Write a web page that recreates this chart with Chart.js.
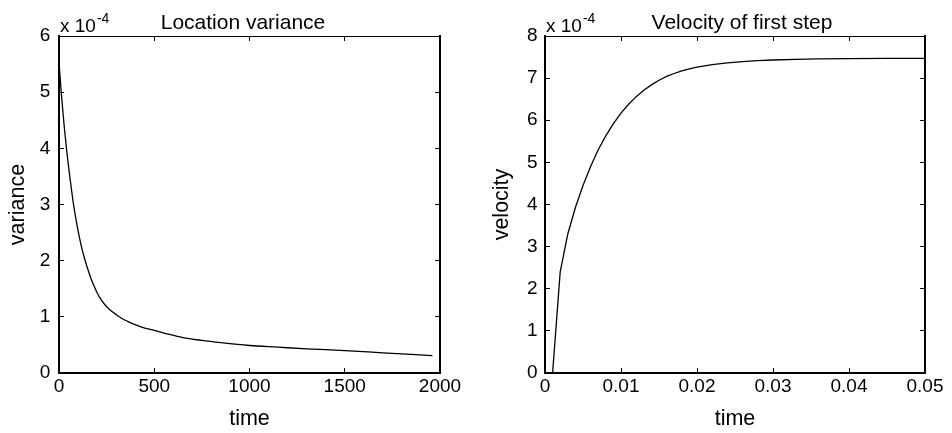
<!DOCTYPE html>
<html>
<head>
<meta charset="utf-8">
<script src="https://cdn.jsdelivr.net/npm/chart.js@4.4.1/dist/chart.umd.min.js"></script>
<style>
    html, body { margin: 0; padding: 0; background: #fff; overflow: hidden; }
    body { width: 952px; height: 433px; position: relative; }
    canvas { position: absolute; top: 0; }
    #leftChart { left: 0; }
    #rightChart { left: 481px; }
</style>
</head>
<body>
<canvas id="leftChart" width="481" height="433"></canvas>
<canvas id="rightChart" width="514" height="433"></canvas>
<script>
// --- Data (y in units of 1e-4) ---
const timeLeft = [0, 5, 10, 15, 20, 25, 30, 40, 50, 60, 75, 90, 105, 120, 135, 150, 165, 180, 200, 220,
    240, 260, 280, 300, 330, 360, 400, 450, 500, 575, 650, 750, 850, 1000, 1150, 1300, 1500, 1700, 1960];
const varianceLeft = [5.55, 5.3, 5.08, 4.87, 4.67, 4.48, 4.3, 3.97, 3.68, 3.41, 3.03, 2.72, 2.45, 2.22, 2.03, 1.86, 1.71, 1.58, 1.43, 1.31,
    1.22, 1.15, 1.09, 1.04, 0.97, 0.92, 0.86, 0.8, 0.76, 0.69, 0.63, 0.58, 0.54, 0.49, 0.46, 0.43, 0.4, 0.36, 0.31];

const timeRight = [0.001, 0.002, 0.003, 0.004, 0.005, 0.006, 0.007, 0.008, 0.009, 0.010,
    0.011, 0.012, 0.013, 0.014, 0.015, 0.016, 0.017, 0.018, 0.019, 0.020,
    0.022, 0.024, 0.026, 0.028, 0.030, 0.033, 0.036, 0.040, 0.045, 0.050];
const velocityRight = [0, 2.4, 3.3, 3.93, 4.45, 4.9, 5.3, 5.63, 5.92, 6.17,
    6.38, 6.56, 6.71, 6.84, 6.95, 7.04, 7.11, 7.17, 7.22, 7.26,
    7.32, 7.36, 7.39, 7.415, 7.43, 7.445, 7.455, 7.462, 7.467, 7.47];

// tick values and labels
const xTicksLeft = [0, 500, 1000, 1500, 2000];
const xTickLabelsLeft = ['0', '500', '1000', '1500', '2000'];
const yTicksLeft = [0, 1, 2, 3, 4, 5, 6];
const xTicksRight = [0, 0.01, 0.02, 0.03, 0.04, 0.05];
const xTickLabelsRight = ['0', '0.01', '0.02', '0.03', '0.04', '0.05'];
const yTicksRight = [0, 1, 2, 3, 4, 5, 6, 7, 8];

const FONT = "'Liberation Sans', Arial, Helvetica, sans-serif";
const INK = '#000';

Chart.defaults.font.family = FONT;
Chart.defaults.color = INK;

// MATLAB style: ticks pointing inwards on all four sides
const gridOpts = {
    drawOnChartArea: false,
    drawTicks: true,
    tickLength: -5,
    tickWidth: 1,
    tickColor: INK
};

function fixedTicks(values) {
    return (scale) => { scale.ticks = values.map(v => ({ value: v })); };
}

// draws the "x 10^-4" exponent above the top-left corner
const exponentLabel = {
    id: 'exponentLabel',
    afterDraw(chart) {
        const { ctx, chartArea } = chart;
        ctx.save();
        ctx.fillStyle = INK;
        ctx.textAlign = 'left';
        ctx.textBaseline = 'alphabetic';
        ctx.font = '19px ' + FONT;
        const base = 'x 10';
        ctx.fillText(base, chartArea.left + 1, chartArea.top - 3.7);
        const w = ctx.measureText(base).width;
        ctx.font = '14px ' + FONT;
        ctx.fillText('-4', chartArea.left + 2 + w, chartArea.top - 13);
        ctx.restore();
    }
};

function buildChart(canvasId, cfg) {
    const xs = cfg.xValues, ys = cfg.yValues;
    const points = xs.map((x, i) => ({ x: x, y: ys[i] }));

    return new Chart(document.getElementById(canvasId), {
        type: 'line',
        data: {
            datasets: [{
                data: points,
                borderColor: INK,
                borderWidth: 1.3,
                pointRadius: 0,
                tension: 0,
                cubicInterpolationMode: cfg.smooth ? 'monotone' : 'default',
                fill: false
            }]
        },
        options: {
            responsive: false,
            animation: false,
            devicePixelRatio: 1,
            layout: { padding: { left: cfg.padLeft, right: 0, top: 0, bottom: 0 } },
            plugins: {
                legend: { display: false },
                tooltip: { enabled: false },
                title: {
                    display: true,
                    text: cfg.title,
                    color: INK,
                    font: { size: 21, weight: 'normal', family: FONT },
                    padding: { top: 10.4, bottom: 0.4 }
                }
            },
            scales: {
                x: {
                    type: 'linear',
                    position: 'bottom',
                    min: cfg.xMin, max: cfg.xMax,
                    afterBuildTicks: fixedTicks(cfg.xTicks),
                    afterFit: (s) => { s.height = 60; },
                    grid: gridOpts,
                    border: { display: true, color: INK, width: 2 },
                    ticks: {
                        padding: 7.7,
                        color: INK,
                        font: { size: 19 },
                        maxRotation: 0,
                        autoSkip: false,
                        callback: (v, i) => cfg.xTickLabels[i]
                    },
                    title: {
                        display: true,
                        text: 'time',
                        color: INK,
                        font: { size: 21.5 },
                        padding: { top: 0, bottom: 1.5 }
                    }
                },
                x2: {
                    type: 'linear',
                    axis: 'x',
                    position: 'top',
                    min: cfg.xMin, max: cfg.xMax,
                    afterBuildTicks: fixedTicks(cfg.xTicks),
                    afterFit: (s) => { s.height = 0; },
                    grid: gridOpts,
                    border: { display: true, color: INK, width: 1 },
                    ticks: { display: false }
                },
                y: {
                    type: 'linear',
                    position: 'left',
                    min: cfg.yMin, max: cfg.yMax,
                    afterBuildTicks: fixedTicks(cfg.yTicks),
                    afterFit: (s) => { s.width = cfg.yAxisWidth; },
                    grid: gridOpts,
                    border: { display: true, color: INK, width: 2 },
                    ticks: {
                        padding: cfg.yTickPad,
                        color: INK,
                        font: { size: 19 },
                        callback: (v) => String(v)
                    },
                    title: {
                        display: true,
                        text: cfg.yTitle,
                        color: INK,
                        font: { size: 21.5 },
                        padding: { top: cfg.yTitlePad, bottom: 0 }
                    }
                },
                y2: {
                    type: 'linear',
                    axis: 'y',
                    position: 'right',
                    min: cfg.yMin, max: cfg.yMax,
                    afterBuildTicks: fixedTicks(cfg.yTicks),
                    afterFit: (s) => { s.width = cfg.rightWidth; },
                    grid: gridOpts,
                    border: { display: true, color: INK, width: 2 },
                    ticks: { display: false }
                }
            }
        },
        plugins: [exponentLabel]
    });
}

buildChart('leftChart', {
    title: 'Location variance',
    yTitle: 'variance',
    xValues: timeLeft, yValues: varianceLeft,
    xMin: 0, xMax: 2000, yMin: 0, yMax: 6,
    xTicks: xTicksLeft, xTickLabels: xTickLabelsLeft, yTicks: yTicksLeft,
    padLeft: 5, yAxisWidth: 54, rightWidth: 41,
    yTickPad: 13.7, yTitlePad: 0, smooth: true
});

buildChart('rightChart', {
    title: 'Velocity of first step',
    yTitle: 'velocity',
    xValues: timeRight, yValues: velocityRight,
    xMin: 0, xMax: 0.05, yMin: 0, yMax: 8,
    xTicks: xTicksRight, xTickLabels: xTickLabelsRight, yTicks: yTicksRight,
    padLeft: 8, yAxisWidth: 56, rightWidth: 70,
    yTickPad: 12.5, yTitlePad: 0.4, smooth: false
});
</script>
</body>
</html>
